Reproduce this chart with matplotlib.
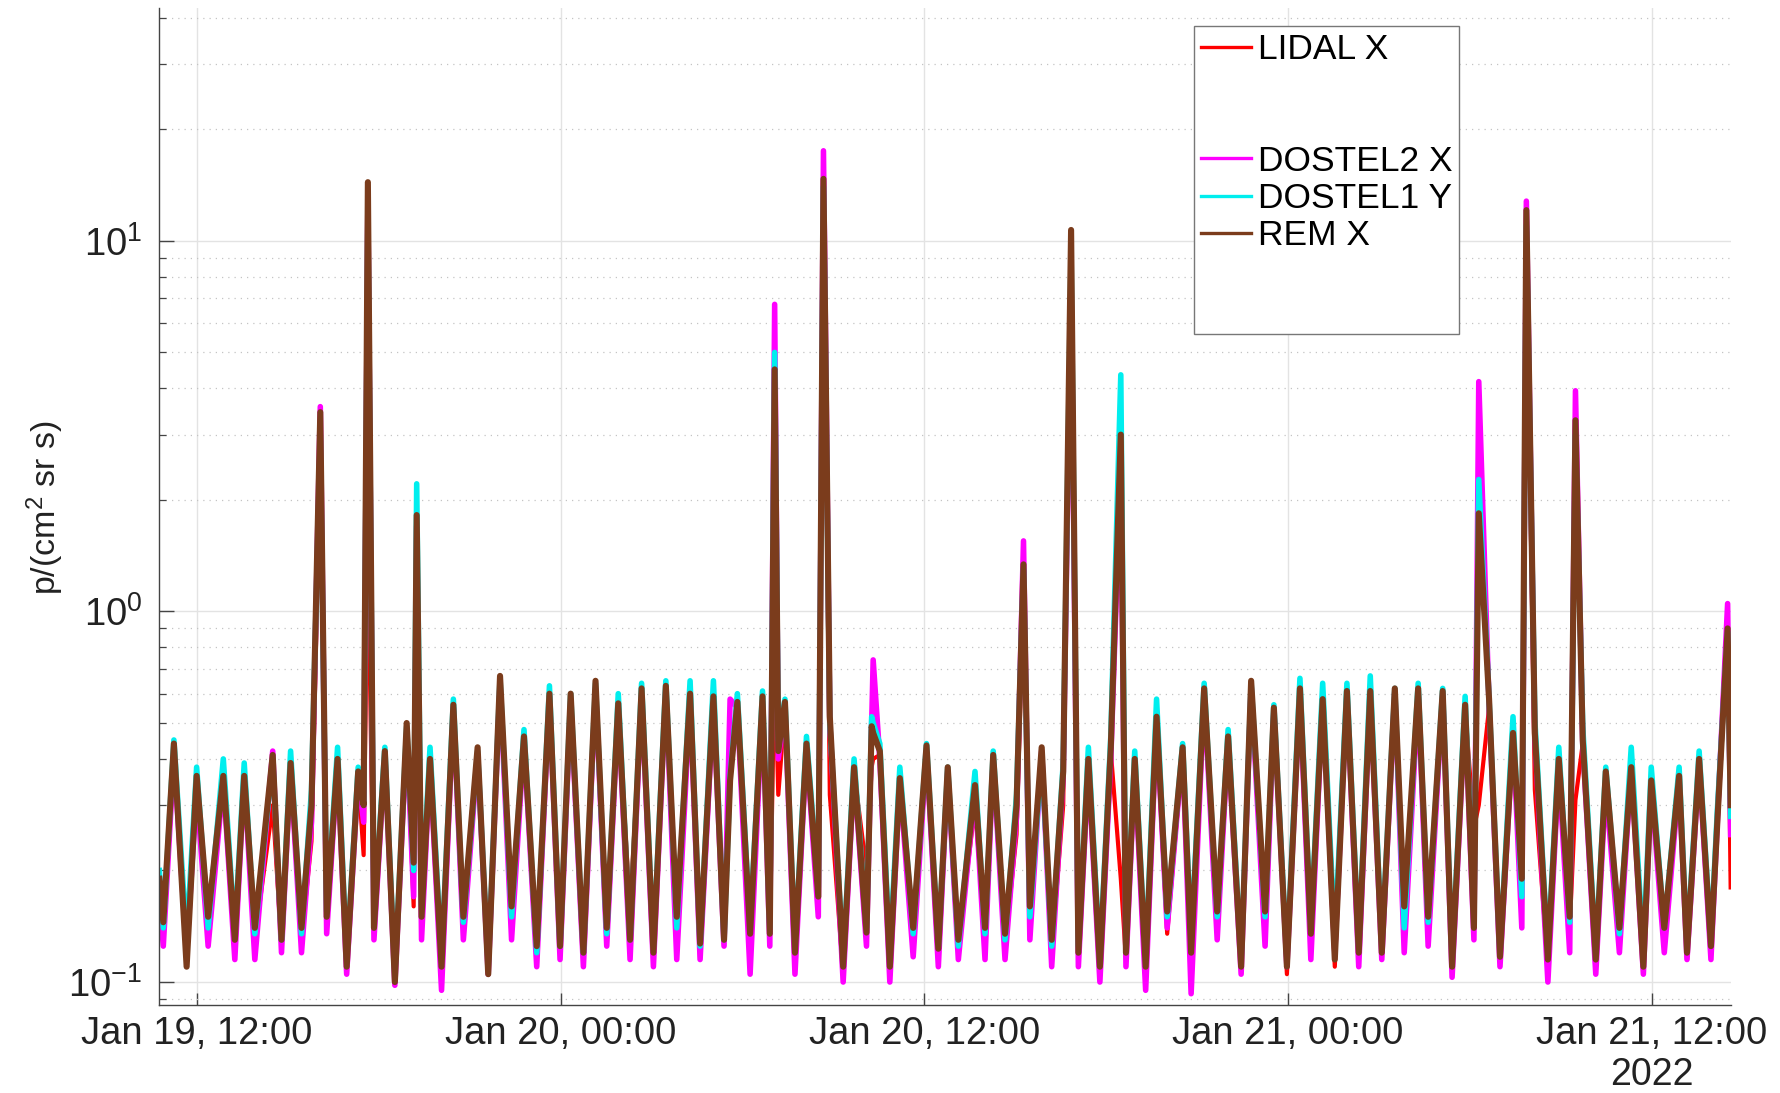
import matplotlib

matplotlib.use("Agg")
import matplotlib.dates as mdates
import matplotlib.pyplot as plt
import numpy as np
from matplotlib.lines import Line2D
from matplotlib.ticker import LogLocator, NullFormatter

# Sample times, hours after 2022-01-19 00:00 (UTC)
hours = [
    10.76, 10.89, 11.24, 11.66, 11.99, 12.37, 12.87, 13.25, 13.56, 13.91,
    14.50, 14.79, 15.09, 15.45, 15.78, 16.07, 16.28, 16.64, 16.94, 17.32,
    17.50, 17.64, 17.84, 18.20, 18.53, 18.92, 19.15, 19.25, 19.41, 19.69,
    20.07, 20.46, 20.79, 21.26, 21.61, 22.00, 22.38, 22.79, 23.21, 23.63,
    23.98, 24.33, 24.75, 25.15, 25.52, 25.90, 26.29, 26.67, 27.06, 27.47,
    27.83, 28.27, 28.60, 29.04, 29.39, 29.59, 29.83, 30.25, 30.66, 30.90,
    31.06, 31.18, 31.40, 31.73, 32.11, 32.50, 32.67, 32.88, 33.32, 33.68,
    34.09, 34.26, 34.31, 34.53, 34.86, 35.19, 35.63, 36.07, 36.46, 36.77,
    37.12, 37.67, 38.00, 38.27, 38.66, 39.04, 39.27, 39.48, 39.87, 40.20,
    40.58, 40.84, 41.08, 41.41, 41.79, 42.15, 42.48, 42.65, 42.94, 43.30,
    43.66, 44.01, 44.52, 44.80, 45.23, 45.66, 46.02, 46.45, 46.78, 47.24,
    47.53, 47.96, 48.39, 48.75, 49.14, 49.54, 49.94, 50.33, 50.71, 51.09,
    51.52, 51.83, 52.29, 52.62, 53.10, 53.41, 53.84, 54.13, 54.29, 54.63,
    54.99, 55.42, 55.71, 55.86, 56.14, 56.57, 56.93, 57.29, 57.48, 57.72,
    58.15, 58.48, 58.93, 59.32, 59.72, 59.98, 60.41, 60.90, 61.16, 61.56,
    61.95, 62.16, 62.50, 62.60,
]

# proton flux, p/(cm^2 sr s)
lidal_x = [
    0.16, 0.13, 0.43, 0.12, 0.35, 0.14, 0.36, 0.125, 0.35, 0.13,
    0.30, 0.125, 0.38, 0.13, 0.24, 2.6, 0.145, 0.39, 0.11, 0.36,
    0.22, 1.56, 0.135, 0.41, 0.10, 0.49, 0.16, 1.5, 0.14, 0.39,
    0.105, 0.55, 0.14, 0.42, 0.105, 0.66, 0.15, 0.45, 0.12, 0.59,
    0.12, 0.55, 0.115, 0.63, 0.135, 0.55, 0.155, 0.60, 0.12, 0.62,
    0.14, 0.59, 0.116, 0.58, 0.13, 0.35, 0.56, 0.13, 0.58, 0.13,
    0.75, 0.32, 0.55, 0.12, 0.43, 0.16, 13.0, 0.32, 0.105, 0.37,
    0.20, 0.38, 0.40, 0.41, 0.11, 0.35, 0.125, 0.43, 0.12, 0.37,
    0.125, 0.30, 0.13, 0.40, 0.125, 0.25, 1.1, 0.15, 0.42, 0.12,
    0.30, 9.0, 0.115, 0.39, 0.105, 0.42, 0.19, 0.115, 0.39, 0.105,
    0.50, 0.135, 0.42, 0.115, 0.61, 0.15, 0.45, 0.11, 0.63, 0.145,
    0.54, 0.105, 0.61, 0.13, 0.57, 0.11, 0.60, 0.12, 0.60, 0.12,
    0.61, 0.15, 0.61, 0.145, 0.60, 0.11, 0.55, 0.26, 0.30, 0.55,
    0.115, 0.46, 0.16, 10.0, 0.33, 0.11, 0.39, 0.14, 0.31, 0.44,
    0.11, 0.36, 0.13, 0.37, 0.11, 0.34, 0.13, 0.35, 0.115, 0.39,
    0.12, 0.26, 0.85, 0.18,
]

dostel2_x = [
    0.17, 0.125, 0.41, 0.12, 0.33, 0.125, 0.35, 0.115, 0.36, 0.115,
    0.42, 0.12, 0.38, 0.12, 0.27, 3.57, 0.135, 0.39, 0.105, 0.36,
    0.27, 13.0, 0.13, 0.41, 0.098, 0.47, 0.17, 1.7, 0.13, 0.39,
    0.095, 0.55, 0.13, 0.41, 0.105, 0.64, 0.13, 0.45, 0.11, 0.59,
    0.115, 0.57, 0.11, 0.62, 0.125, 0.55, 0.115, 0.60, 0.11, 0.62,
    0.115, 0.58, 0.115, 0.57, 0.125, 0.58, 0.55, 0.105, 0.57, 0.125,
    6.74, 0.40, 0.55, 0.105, 0.43, 0.15, 17.5, 0.50, 0.10, 0.37,
    0.125, 0.50, 0.74, 0.40, 0.10, 0.35, 0.117, 0.42, 0.11, 0.37,
    0.115, 0.33, 0.115, 0.40, 0.115, 0.28, 1.55, 0.13, 0.42, 0.11,
    0.36, 8.0, 0.11, 0.38, 0.10, 0.40, 2.5, 0.11, 0.38, 0.095,
    0.50, 0.14, 0.42, 0.093, 0.60, 0.13, 0.45, 0.105, 0.63, 0.125,
    0.54, 0.11, 0.60, 0.115, 0.58, 0.12, 0.60, 0.11, 0.60, 0.115,
    0.61, 0.12, 0.60, 0.125, 0.60, 0.103, 0.54, 0.13, 4.17, 0.56,
    0.11, 0.47, 0.14, 12.8, 0.46, 0.10, 0.38, 0.12, 3.94, 0.44,
    0.105, 0.34, 0.12, 0.38, 0.105, 0.34, 0.12, 0.35, 0.115, 0.39,
    0.115, 0.27, 1.05, 0.25,
]

dostel1_y = [
    0.20, 0.14, 0.45, 0.13, 0.38, 0.14, 0.40, 0.135, 0.39, 0.135,
    0.40, 0.13, 0.42, 0.135, 0.33, 3.0, 0.155, 0.43, 0.115, 0.38,
    0.30, 12.0, 0.15, 0.43, 0.105, 0.49, 0.20, 2.21, 0.16, 0.43,
    0.115, 0.58, 0.145, 0.42, 0.11, 0.66, 0.15, 0.48, 0.12, 0.63,
    0.125, 0.60, 0.12, 0.64, 0.135, 0.60, 0.13, 0.64, 0.125, 0.65,
    0.14, 0.65, 0.125, 0.65, 0.13, 0.36, 0.60, 0.14, 0.61, 0.14,
    5.0, 0.45, 0.58, 0.125, 0.46, 0.18, 14.0, 0.50, 0.115, 0.40,
    0.14, 0.52, 0.50, 0.44, 0.12, 0.38, 0.135, 0.44, 0.125, 0.38,
    0.125, 0.37, 0.135, 0.42, 0.13, 0.32, 1.3, 0.15, 0.41, 0.125,
    0.39, 9.3, 0.125, 0.43, 0.115, 0.46, 4.35, 0.125, 0.42, 0.115,
    0.58, 0.15, 0.44, 0.13, 0.64, 0.15, 0.48, 0.115, 0.64, 0.15,
    0.56, 0.115, 0.66, 0.14, 0.64, 0.13, 0.64, 0.125, 0.67, 0.125,
    0.62, 0.14, 0.64, 0.145, 0.62, 0.115, 0.59, 0.15, 2.27, 0.58,
    0.12, 0.52, 0.17, 11.0, 0.51, 0.12, 0.43, 0.145, 3.0, 0.49,
    0.12, 0.38, 0.135, 0.43, 0.12, 0.38, 0.14, 0.38, 0.125, 0.42,
    0.13, 0.29, 0.88, 0.28,
]

rem_x = [
    0.19, 0.145, 0.44, 0.11, 0.36, 0.15, 0.36, 0.13, 0.36, 0.14,
    0.41, 0.13, 0.39, 0.14, 0.30, 3.45, 0.15, 0.40, 0.11, 0.37,
    0.30, 14.4, 0.14, 0.42, 0.10, 0.50, 0.21, 1.82, 0.15, 0.40,
    0.11, 0.56, 0.15, 0.43, 0.105, 0.67, 0.16, 0.46, 0.125, 0.60,
    0.125, 0.60, 0.12, 0.65, 0.14, 0.565, 0.13, 0.62, 0.12, 0.63,
    0.15, 0.60, 0.127, 0.59, 0.13, 0.35, 0.57, 0.135, 0.59, 0.135,
    4.5, 0.42, 0.57, 0.12, 0.44, 0.17, 14.7, 0.52, 0.11, 0.38,
    0.136, 0.49, 0.47, 0.42, 0.11, 0.355, 0.14, 0.435, 0.123, 0.38,
    0.13, 0.34, 0.14, 0.41, 0.135, 0.30, 1.34, 0.16, 0.43, 0.13,
    0.37, 10.7, 0.12, 0.40, 0.11, 0.43, 3.0, 0.12, 0.40, 0.11,
    0.52, 0.155, 0.43, 0.12, 0.62, 0.155, 0.46, 0.11, 0.65, 0.155,
    0.55, 0.11, 0.62, 0.135, 0.58, 0.115, 0.61, 0.12, 0.61, 0.12,
    0.62, 0.16, 0.62, 0.15, 0.61, 0.11, 0.56, 0.14, 1.84, 0.58,
    0.117, 0.47, 0.19, 12.1, 0.47, 0.115, 0.40, 0.15, 3.28, 0.45,
    0.115, 0.37, 0.14, 0.38, 0.11, 0.35, 0.14, 0.36, 0.12, 0.40,
    0.125, 0.27, 0.90, 0.30,
]

series = [
    ("LIDAL X", lidal_x, "#ff0000", 3.0),
    ("DOSTEL2 X", dostel2_x, "#ff00ff", 4.0),
    ("DOSTEL1 Y", dostel1_y, "#00eeee", 4.0),
    ("REM X", rem_x, "#7b3c1c", 4.4),
]

T0 = np.datetime64("2022-01-19T00:00")


def to_time(h):
    return T0 + (np.asarray(h) * 3600).astype("timedelta64[s]")


def main() -> None:
    plt.rcParams["font.family"] = ["Liberation Sans", "DejaVu Sans"]
    plt.rcParams["mathtext.fontset"] = "custom"
    plt.rcParams["mathtext.rm"] = "Liberation Sans"
    plt.rcParams["mathtext.it"] = "Liberation Sans"
    plt.rcParams["mathtext.default"] = "regular"

    fig = plt.figure(figsize=(17.81, 10.93), dpi=100)
    ax = fig.add_axes([0.0893, 0.0805, 0.8826, 0.9122])

    t = to_time(hours)
    for name, vals, color, lw in series:
        ax.plot(t, vals, color=color, lw=lw, solid_joinstyle="round")

    ax.set_yscale("log")
    ax.set_ylim(0.0867, 42.5)
    ax.set_xlim(to_time(10.75), to_time(62.61))

    ax.yaxis.set_major_locator(LogLocator(base=10))
    ax.yaxis.set_minor_locator(LogLocator(base=10, subs=np.arange(2, 10)))
    ax.yaxis.set_minor_formatter(NullFormatter())
    ax.xaxis.set_major_locator(mdates.HourLocator(byhour=[0, 12]))
    ax.xaxis.set_major_formatter(mdates.DateFormatter("%b %d, %H:%M"))

    ax.set_axisbelow(True)
    ax.grid(which="major", color="#e3e3e3", lw=1.0, ls="-")
    ax.grid(which="minor", axis="y", color="#c4c4c4", lw=0.9, ls=(0, (1, 4)))

    for side in ("top", "right"):
        ax.spines[side].set_visible(False)
    for side in ("left", "bottom"):
        ax.spines[side].set_color("#444444")
        ax.spines[side].set_linewidth(1.0)

    ax.tick_params(axis="both", which="both", direction="in", colors="#444444",
                   labelcolor="#222222", labelsize=27.5, top=False, right=False)
    ax.tick_params(axis="y", which="major", length=11, width=1.0, pad=12)
    ax.tick_params(axis="y", which="minor", length=5, width=0.9)
    ax.tick_params(axis="x", which="major", length=9, width=1.0, pad=8)

    ax.set_ylabel("p/(cm$^2$ sr s)", fontsize=24.5, color="#222222")
    ax.yaxis.set_label_coords(-0.059, 0.4985)

    ax.text(mdates.date2num(np.datetime64("2022-01-21T12:00")), -0.080, "2022",
            transform=ax.get_xaxis_transform(), ha="center", va="baseline",
            fontsize=27, color="#222222")

    # legend keeps the empty slots of the unused channels
    blank = Line2D([], [], color="none")
    handles = [
        Line2D([], [], color=series[0][2], lw=2.4), blank, blank,
        Line2D([], [], color=series[1][2], lw=2.4),
        Line2D([], [], color=series[2][2], lw=2.4),
        Line2D([], [], color=series[3][2], lw=2.4), blank, blank,
    ]
    labels = ["LIDAL X", " ", " ", "DOSTEL2 X", "DOSTEL1 Y", "REM X", " ", " "]
    leg = ax.legend(handles, labels, loc="upper left", bbox_to_anchor=(0.6584, 0.982),
                    fontsize=25.5, frameon=True, fancybox=False, framealpha=1,
                    edgecolor="#777777", borderpad=0.2, labelspacing=0.12,
                    handlelength=1.4, handletextpad=0.2, borderaxespad=0)
    leg.get_frame().set_linewidth(1.0)

    fig.savefig("out.png", dpi=100)
    plt.close(fig)


if __name__ == "__main__":
    main()
